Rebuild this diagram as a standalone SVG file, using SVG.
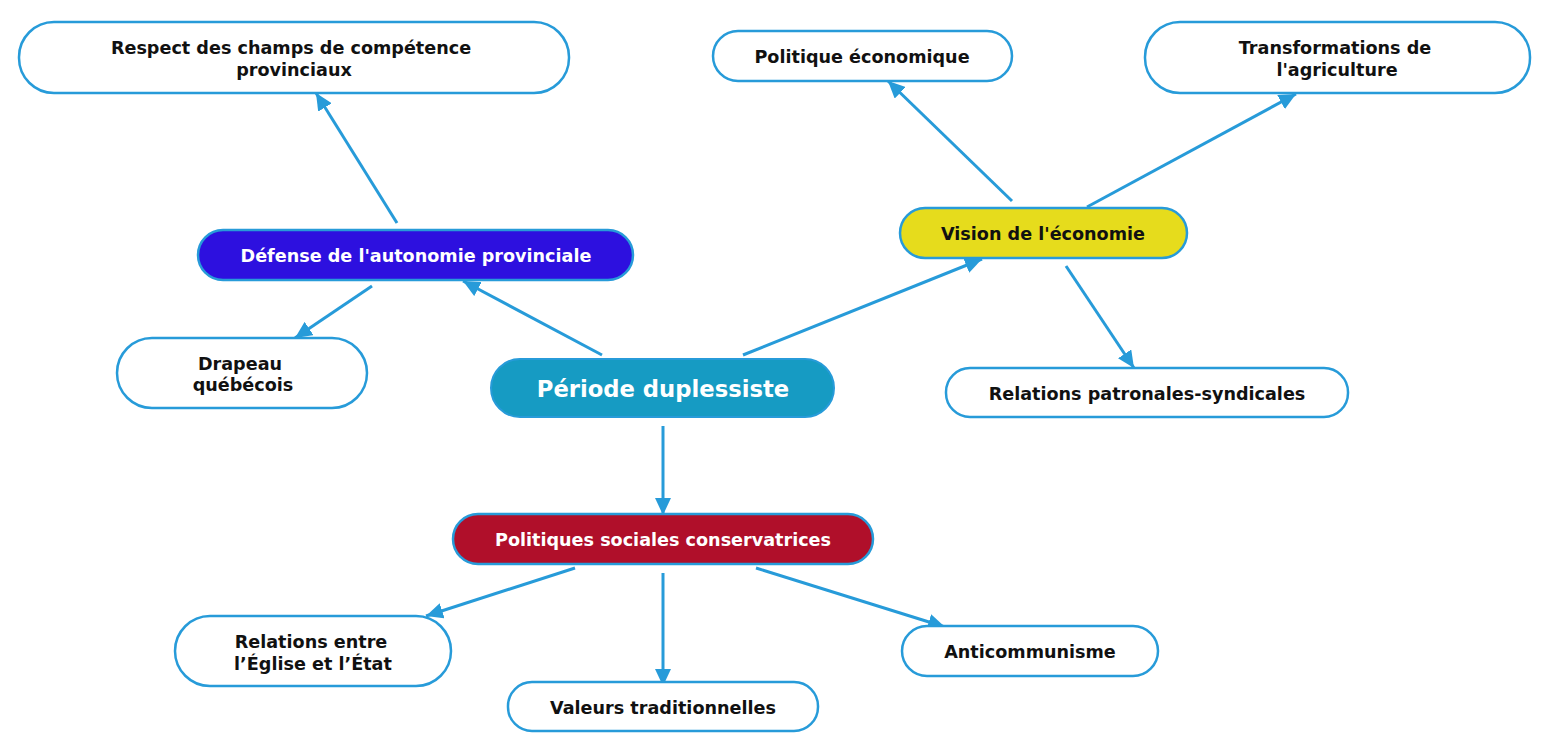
<svg xmlns="http://www.w3.org/2000/svg" width="1544" height="754" viewBox="0 0 1544 754">
<style>
.n{fill:#fff;stroke:#279bd9;stroke-width:2.5}
.t{font-family:"DejaVu Sans","Liberation Sans",sans-serif;font-weight:bold;font-size:17.6px;fill:#111;text-anchor:middle}
.w{fill:#fff}
.c{stroke:#279bd9;stroke-width:3;fill:none;marker-end:url(#ah)}
</style>
<defs>
<marker id="ah" markerUnits="userSpaceOnUse" markerWidth="19" markerHeight="16" refX="17" refY="8" orient="auto">
<path d="M0,0 L17,8 L0,16 Z" fill="#279bd9"/>
</marker>
</defs>
<rect width="1544" height="754" fill="#fff"/>
<g id="connectors">
<line class="c" x1="397" y1="223" x2="316" y2="93"/>
<line class="c" x1="372" y1="286" x2="295" y2="338"/>
<line class="c" x1="602" y1="355" x2="463" y2="281"/>
<line class="c" x1="743" y1="355" x2="982" y2="259"/>
<line class="c" x1="1012" y1="201" x2="888" y2="81"/>
<line class="c" x1="1087" y1="207" x2="1296" y2="94"/>
<line class="c" x1="1066" y1="266" x2="1134" y2="368"/>
<line class="c" x1="663" y1="426" x2="663" y2="515"/>
<line class="c" x1="575" y1="568" x2="426" y2="616"/>
<line class="c" x1="663" y1="573" x2="663" y2="686"/>
<line class="c" x1="756" y1="568" x2="945" y2="627"/>
</g>
<g id="respect">
<rect class="n" x="19" y="22" width="550" height="71" rx="35"/>
<text class="t" x="291" y="54">Respect des champs de compétence</text>
<text class="t" x="294" y="76">provinciaux</text>
</g>
<g id="politique">
<rect class="n" x="713" y="31" width="299" height="50" rx="25"/>
<text class="t" x="862" y="63">Politique économique</text>
</g>
<g id="transformations">
<rect class="n" x="1145" y="22" width="385" height="71" rx="35"/>
<text class="t" x="1335" y="54">Transformations de</text>
<text class="t" x="1337" y="76">l'agriculture</text>
</g>
<g id="defense">
<rect x="198" y="230" width="435" height="50" rx="25" fill="#2d10df" stroke="#279bd9" stroke-width="2.5"/>
<text class="t w" x="416" y="262">Défense de l'autonomie provinciale</text>
</g>
<g id="vision">
<rect x="900" y="208" width="287" height="50" rx="25" fill="#e6dc1c" stroke="#279bd9" stroke-width="2.5"/>
<text class="t" x="1043" y="240">Vision de l'économie</text>
</g>
<g id="drapeau">
<rect class="n" x="117" y="338" width="250" height="70" rx="35"/>
<text class="t" x="240" y="370">Drapeau</text>
<text class="t" x="243" y="391">québécois</text>
</g>
<g id="periode">
<rect x="491" y="359" width="343" height="58" rx="29" fill="#169bc3" stroke="#279bd9" stroke-width="2"/>
<text class="t w" x="663" y="397" style="font-size:22.7px">Période duplessiste</text>
</g>
<g id="relations-patronales">
<rect class="n" x="946" y="368" width="402" height="49" rx="24"/>
<text class="t" x="1147" y="400">Relations patronales-syndicales</text>
</g>
<g id="politiques-sociales">
<rect x="453" y="514" width="420" height="50" rx="25" fill="#b00f2a" stroke="#279bd9" stroke-width="2.5"/>
<text class="t w" x="663" y="546">Politiques sociales conservatrices</text>
</g>
<g id="relations-eglise">
<rect class="n" x="175" y="616" width="276" height="70" rx="35"/>
<text class="t" x="311" y="648">Relations entre</text>
<text class="t" x="313" y="670">l’Église et l’État</text>
</g>
<g id="valeurs">
<rect class="n" x="508" y="682" width="310" height="49" rx="24"/>
<text class="t" x="663" y="714">Valeurs traditionnelles</text>
</g>
<g id="anticommunisme">
<rect class="n" x="902" y="626" width="256" height="50" rx="25"/>
<text class="t" x="1030" y="658">Anticommunisme</text>
</g>
</svg>
